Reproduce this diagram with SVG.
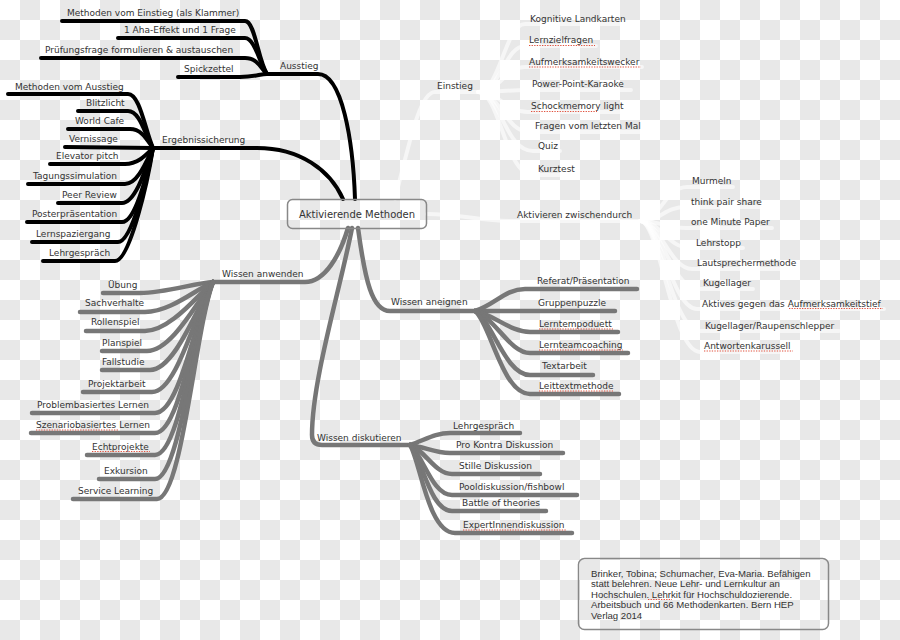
<svg xmlns="http://www.w3.org/2000/svg" width="900" height="640" viewBox="0 0 900 640">
<defs>
<pattern id="checker" x="0" y="0" width="40" height="40" patternUnits="userSpaceOnUse">
<rect x="0" y="0" width="40" height="40" fill="#ffffff"/>
<rect x="20" y="0" width="20" height="20" fill="#e8e8e8"/>
<rect x="0" y="20" width="20" height="20" fill="#e8e8e8"/>
</pattern>
<style>
.t{font-family:"DejaVu Sans","Noto Sans",sans-serif;font-size:9px;fill:#333}
.c{font-family:"DejaVu Sans","Noto Sans",sans-serif;font-size:10px;fill:#333;text-anchor:middle}
.r{font-family:"Liberation Sans",Arial,sans-serif;font-size:9.6px;fill:#333}
.k{stroke:#000;stroke-width:4;fill:none;stroke-linecap:round}
.g{stroke:#777;stroke-width:4.5;fill:none;stroke-linecap:round}
.w{stroke:#fff;stroke-width:4;fill:none;stroke-linecap:round;opacity:0.6}
.sp{stroke:#e0503c;stroke-width:1.2;stroke-dasharray:1.3 1.3;fill:none}
.box{fill:none;stroke:#888;stroke-width:1.5}
</style>
</defs>
<rect width="900" height="640" fill="url(#checker)"/>

<g id="connectors">
<path class="w" d="M395,199 C410,140 420,92 435,92 L478,92"/>
<path class="w" d="M478,92 C500,92 505,24 525,24 L628,24"/>
<path class="w" d="M478,92 C500,92 505,46 525,46 L596,46"/>
<path class="w" d="M478,92 C500,92 505,67 525,67 L642,67"/>
<path class="w" d="M478,92 C500,92 505,90 528,90 L631,90"/>
<path class="w" d="M478,92 C500,92 505,112 528,112 L625,112"/>
<path class="w" d="M478,92 C500,92 505,132 530,132 L643,132"/>
<path class="w" d="M478,92 C500,92 505,151 533,151 L560,151"/>
<path class="w" d="M478,92 C500,92 505,175 533,175 L577,175"/>
<path class="w" d="M427,214 C460,214 480,221 512,221 L640,221"/>
<path class="w" d="M640,221 C660,221 665,187 687,187 L733,187"/>
<path class="w" d="M640,221 C660,221 665,207 686,207 L765,207"/>
<path class="w" d="M640,221 C660,221 665,228 686,228 L772,228"/>
<path class="w" d="M640,221 C660,221 668,248 690,248 L743,248"/>
<path class="w" d="M640,221 C660,221 670,269 692,269 L798,269"/>
<path class="w" d="M640,221 C660,221 672,289 698,289 L753,289"/>
<path class="w" d="M640,221 C660,221 672,309 697,309 L884,309"/>
<path class="w" d="M640,221 C660,221 672,331 700,331 L839,331"/>
<path class="w" d="M640,221 C660,221 672,352 700,352 L794,352"/>

<path class="k" d="M355,199 C353,140 342,74 318,74 L267,74"/>
<path class="k" d="M62,21 L245,21 C255,21 258,60 267,74"/>
<path class="k" d="M118,38 L245,38 C255,38 260,65 267,74"/>
<path class="k" d="M41,58 L245,58 C258,58 262,70 267,74"/>
<path class="k" d="M178,77 L240,77 C255,77 260,74 267,74"/>

<path class="k" d="M153,148 L257,148 C300,148 330,170 343,199"/>
<path class="k" d="M8,94 L128,94 C140,94 145,130 153,148"/>
<path class="k" d="M78,111 L128,111 C140,111 145,135 153,148"/>
<path class="k" d="M68,129 L130,129 C142,129 147,140 153,148"/>
<path class="k" d="M65,147 L153,148"/>
<path class="k" d="M50,164 L125,164 C138,164 146,155 153,148"/>
<path class="k" d="M28,184 L125,184 C138,184 147,160 153,148"/>
<path class="k" d="M58,203 L122,203 C136,203 147,165 153,148"/>
<path class="k" d="M27,222 L122,222 C136,222 148,170 153,148"/>
<path class="k" d="M32,242 L118,242 C132,242 148,175 153,148"/>
<path class="k" d="M43,261 L115,261 C130,261 148,180 153,148"/>

<path class="g" d="M213,282 L305,282 C325,282 340,255 348,228"/>
<path class="g" d="M103,293 L140,293 C165,293 195,283 213,282"/>
<path class="g" d="M80,312 L145,312 C170,312 195,290 213,282"/>
<path class="g" d="M86,331 L145,331 C170,331 198,295 213,282"/>
<path class="g" d="M102,351 L147,351 C172,351 198,300 213,282"/>
<path class="g" d="M102,370 L150,370 C175,370 198,305 213,282"/>
<path class="g" d="M83,392 L152,392 C177,392 196,310 213,282"/>
<path class="g" d="M32,413 L155,413 C180,413 196,315 213,282"/>
<path class="g" d="M31,433 L155,433 C180,433 195,320 213,282"/>
<path class="g" d="M87,455 L155,455 C180,455 195,322 213,282"/>
<path class="g" d="M99,479 L155,479 C180,479 195,325 213,282"/>
<path class="g" d="M73,499 L157,499 C182,499 195,330 213,282"/>

<path class="g" d="M358,228 C365,280 372,311 390,311 L475,311"/>
<path class="g" d="M475,311 C495,305 505,289 525,289 L637,289"/>
<path class="g" d="M475,311 L615,311"/>
<path class="g" d="M475,311 C495,315 510,332 530,332 L618,332"/>
<path class="g" d="M475,311 C495,318 510,353 530,353 L628,353"/>
<path class="g" d="M475,311 C492,320 505,375 530,375 L593,375"/>
<path class="g" d="M475,311 C490,322 502,394 530,394 L619,394"/>

<path class="g" d="M352,228 C340,290 312,380 312,435 Q312,445 322,445 L410,445"/>
<path class="g" d="M410,445 C425,440 435,433 450,433 L520,433"/>
<path class="g" d="M410,445 C425,447 435,453 450,453 L563,453"/>
<path class="g" d="M410,445 C425,450 435,474 452,474 L540,474"/>
<path class="g" d="M410,445 C423,455 432,495 452,495 L577,495"/>
<path class="g" d="M410,445 C422,458 430,511 452,511 L546,511"/>
<path class="g" d="M410,445 C420,460 428,533 455,533 L572,533"/>
</g>

<g id="center">
<rect class="box" x="287.5" y="199.5" width="139" height="29" rx="5"/>
<text class="c" x="357" y="217.5">Aktivierende Methoden</text>
</g>

<g id="ausstieg" transform="translate(0,-1.5)">
<text class="t" x="280" y="70.5">Ausstieg</text>
<text class="t" x="67" y="17.5">Methoden vom Einstieg (als Klammer)</text>
<text class="t" x="124" y="34.5">1 Aha-Effekt und 1 Frage</text>
<text class="t" x="45" y="54.5">Prüfungsfrage formulieren &amp; austauschen</text>
<text class="t" x="184" y="73.5">Spickzettel</text>
</g>

<g id="ergebnissicherung" transform="translate(0,-1.5)">
<text class="t" x="162" y="144.5">Ergebnissicherung</text>
<text class="t" x="15" y="91.5">Methoden vom Ausstieg</text>
<text class="t" x="86" y="107.5">Blitzlicht</text>
<text class="t" x="75" y="125.5">World Cafe</text>
<text class="t" x="69" y="143.5">Vernissage</text>
<text class="t" x="56" y="160.5">Elevator pitch</text>
<text class="t" x="33" y="180.5">Tagungssimulation</text>
<text class="t" x="62" y="199.5">Peer Review</text>
<text class="t" x="32" y="218.5">Posterpräsentation</text>
<text class="t" x="36" y="238">Lernspaziergang</text>
<text class="t" x="49" y="257.5">Lehrgespräch</text>
</g>

<g id="wissen-anwenden" transform="translate(0,-1.5)">
<text class="t" x="222" y="278.5">Wissen anwenden</text>
<text class="t" x="108" y="289">Übung</text>
<text class="t" x="85" y="307.5">Sachverhalte</text>
<text class="t" x="91" y="326.5">Rollenspiel</text>
<text class="t" x="102" y="347">Planspiel</text>
<text class="t" x="102" y="366.5">Fallstudie</text>
<text class="t" x="88" y="388">Projektarbeit</text>
<text class="t" x="37" y="409.5">Problembasiertes Lernen</text>
<text class="t" x="36" y="429.5">Szenariobasiertes Lernen</text>
<text class="t" x="92" y="451">Echtprojekte</text>
<text class="t" x="104" y="475.5">Exkursion</text>
<text class="t" x="78" y="495.5">Service Learning</text>
</g>

<g id="wissen-aneignen" transform="translate(0,-1.5)">
<text class="t" x="391" y="306.5">Wissen aneignen</text>
<text class="t" x="537" y="285.5">Referat/Präsentation</text>
<text class="t" x="538" y="307.5">Gruppenpuzzle</text>
<text class="t" x="539" y="328.5">Lerntempoduett</text>
<text class="t" x="539" y="349.5">Lernteamcoaching</text>
<text class="t" x="542" y="370.5">Textarbeit</text>
<text class="t" x="539" y="390.5">Leittextmethode</text>
</g>

<g id="wissen-diskutieren" transform="translate(0,-1.5)">
<text class="t" x="317" y="442">Wissen diskutieren</text>
<text class="t" x="453" y="430">Lehrgespräch</text>
<text class="t" x="456" y="449.5">Pro Kontra Diskussion</text>
<text class="t" x="459" y="470.5">Stille Diskussion</text>
<text class="t" x="459" y="491">Pooldiskussion/fishbowl</text>
<text class="t" x="462" y="507.5">Battle of theories</text>
<text class="t" x="463" y="529.5">ExpertInnendiskussion</text>
</g>

<g id="einstieg">
<text class="t" x="437" y="89">Einstieg</text>
<text class="t" x="530" y="21.5">Kognitive Landkarten</text>
<text class="t" x="529" y="43">Lernzielfragen</text>
<text class="t" x="529" y="64.5">Aufmerksamkeitswecker</text>
<text class="t" x="532" y="87">Power-Point-Karaoke</text>
<text class="t" x="531" y="109">Schockmemory light</text>
<text class="t" x="535" y="129">Fragen vom letzten Mal</text>
<text class="t" x="538" y="149">Quiz</text>
<text class="t" x="538" y="172">Kurztest</text>
</g>

<g id="aktivieren-zwischendurch">
<text class="t" x="517" y="218">Aktivieren zwischendurch</text>
<text class="t" x="692" y="184">Murmeln</text>
<text class="t" x="691" y="204.5">think pair share</text>
<text class="t" x="691" y="225">one Minute Paper</text>
<text class="t" x="696" y="245.5">Lehrstopp</text>
<text class="t" x="697" y="266">Lautsprechermethode</text>
<text class="t" x="703" y="286">Kugellager</text>
<text class="t" x="702" y="306.5">Aktives gegen das Aufmerksamkeitstief</text>
<text class="t" x="705" y="328.5">Kugellager/Raupenschlepper</text>
<text class="t" x="704" y="349">Antwortenkarussell</text>
</g>

<g id="spellmarks">
<line class="sp" x1="529" y1="45.5" x2="595" y2="45.5"/>
<line class="sp" x1="529" y1="67" x2="641" y2="67"/>
<line class="sp" x1="531" y1="111.5" x2="597" y2="111.5"/>
<line class="sp" x1="539" y1="329" x2="613" y2="329"/>
<line class="sp" x1="539" y1="350" x2="623" y2="350"/>
<line class="sp" x1="539" y1="391" x2="613" y2="391"/>
<line class="sp" x1="463" y1="530" x2="567" y2="530"/>
<line class="sp" x1="36" y1="430" x2="118" y2="430"/>
<line class="sp" x1="92" y1="451.5" x2="150" y2="451.5"/>
<line class="sp" x1="789" y1="308.5" x2="883" y2="308.5"/>
<line class="sp" x1="704" y1="351" x2="793" y2="351"/>
<line class="sp" x1="648" y1="599.5" x2="672" y2="599.5"/>
</g>

<g id="citation">
<rect class="box" x="578.5" y="558.5" width="250" height="71" rx="6"/>
<text class="r" x="591" y="576.5">Brinker, Tobina; Schumacher, Eva-Maria. Befähigen</text>
<text class="r" x="591" y="587">statt belehren. Neue Lehr- und Lernkultur an</text>
<text class="r" x="591" y="597.5">Hochschulen. Lehrkit für Hochschuldozierende.</text>
<text class="r" x="591" y="608">Arbeitsbuch und 66 Methodenkarten. Bern HEP</text>
<text class="r" x="591" y="618.5">Verlag 2014</text>
</g>
</svg>
